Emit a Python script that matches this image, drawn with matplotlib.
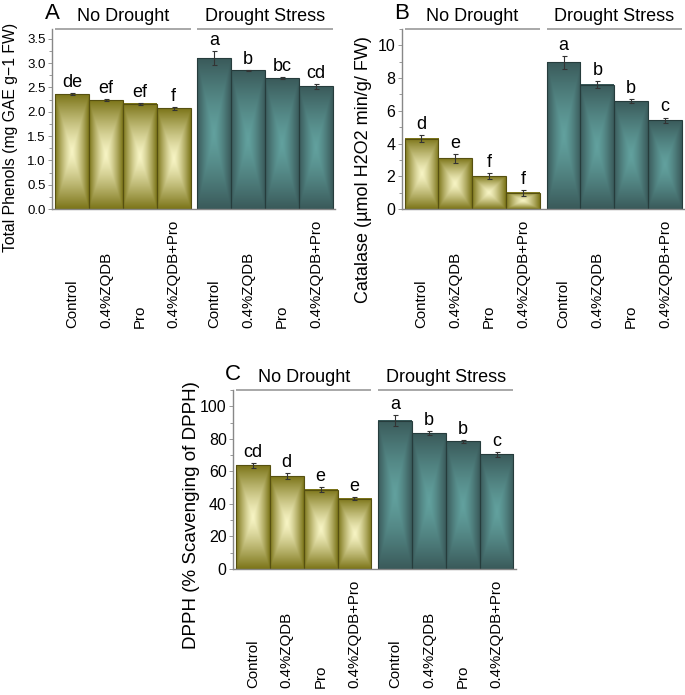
import numpy as np
import matplotlib
matplotlib.use('Agg')
import matplotlib.pyplot as plt
from matplotlib.ticker import MultipleLocator, AutoMinorLocator

plt.rcParams['font.family'] = ['Liberation Sans', 'DejaVu Sans']

treatments = ['Control', '0.4%ZQDB', 'Pro', '0.4%ZQDB+Pro']
groups = ['No Drought', 'Drought Stress']

# Total phenols
phenol_nd = [2.36, 2.24, 2.16, 2.07]
phenol_nd_err = [0.02, 0.02, 0.02, 0.03]
phenol_ds = [3.10, 2.85, 2.69, 2.52]
phenol_ds_err = [0.14, 0.01, 0.02, 0.05]
phenol_letters = ['de', 'ef', 'ef', 'f', 'a', 'b', 'bc', 'cd']

# Catalase
cat_nd = [4.30, 3.10, 2.00, 0.98]
cat_nd_err = [0.23, 0.27, 0.17, 0.17]
cat_ds = [8.96, 7.60, 6.58, 5.42]
cat_ds_err = [0.40, 0.20, 0.12, 0.17]
cat_letters = ['d', 'e', 'f', 'f', 'a', 'b', 'b', 'c']

# DPPH
dpph_nd = [63.7, 57.1, 48.8, 43.1]
dpph_nd_err = [1.5, 1.8, 1.5, 1.0]
dpph_ds = [91.2, 83.5, 78.4, 70.4]
dpph_ds_err = [3.5, 1.0, 1.0, 1.5]
dpph_letters = ['cd', 'd', 'e', 'e', 'a', 'b', 'b', 'c']

OLIVE = {'light': '#f7f4c4', 'dark': '#7c7519', 'edge': '#565010'}
TEAL = {'light': '#62a19e', 'dark': '#3a5a5a', 'edge': '#263c3c'}


def gradient(style, n=120):
    # rectangular gradient: light centre, dark edges
    u = np.linspace(-1, 1, n)
    U, V = np.meshgrid(u, u)
    f = np.maximum(np.abs(U), np.abs(V)) ** 1.3
    lo = np.array(matplotlib.colors.to_rgb(style['light']))
    hi = np.array(matplotlib.colors.to_rgb(style['dark']))
    return lo[None, None, :] * (1 - f[..., None]) + hi[None, None, :] * f[..., None]


def panel(rect, letter, nd, nd_err, ds, ds_err, letters, ylabel, ymax, major,
          tick_fs, lab_fs, lab_pos):
    ax = fig.add_axes(rect)
    gap = 0.2
    x_nd = np.arange(4)
    x_ds = np.arange(4) + 4 + gap
    for xs, vals, errs, st in [(x_nd, nd, nd_err, OLIVE), (x_ds, ds, ds_err, TEAL)]:
        img = gradient(st)
        for x, v in zip(xs, vals):
            ax.imshow(img, extent=(x - 0.5, x + 0.5, 0, v), aspect='auto',
                      interpolation='bilinear', zorder=1)
        ax.bar(xs, vals, width=1.0, facecolor='none', edgecolor=st['edge'],
               linewidth=0.8, zorder=2)
        ax.errorbar(xs, vals, yerr=errs, fmt='none', ecolor='#333333',
                    elinewidth=0.8, capsize=1.8, capthick=0.8, zorder=3)
    xs_all = np.concatenate([x_nd, x_ds])
    tops = np.concatenate([np.array(nd) + nd_err, np.array(ds) + ds_err])
    for x, t, l in zip(xs_all, tops, letters):
        ax.annotate(l, (x, t), xytext=(0, 1.5), textcoords='offset points',
                    ha='center', va='bottom', fontsize=13)
    ax.set_xlim(-0.59, 7.76)
    ax.set_ylim(0, ymax)
    ax.yaxis.set_major_locator(MultipleLocator(major))
    ax.yaxis.set_minor_locator(AutoMinorLocator(2))
    if major < 1:
        ax.yaxis.set_major_formatter(matplotlib.ticker.FormatStrFormatter('%.1f'))
    ax.tick_params(axis='y', labelsize=tick_fs, length=3, width=0.6,
                   color='#888888', pad=1.5)
    ax.tick_params(axis='y', which='minor', length=2, width=0.6, color='#888888')
    ax.set_xticks([])
    for s in ['top', 'right']:
        ax.spines[s].set_visible(False)
    for s in ['left', 'bottom']:
        ax.spines[s].set_color('#888888')
        ax.spines[s].set_linewidth(1.0)
    # rotated treatment labels, bottom aligned
    for x, t in zip(xs_all, treatments * 2):
        ax.annotate(t, (x, 0), xycoords=('data', 'axes fraction'),
                    xytext=(0, -86), textcoords='offset points',
                    rotation=90, ha='center', va='bottom', fontsize=10.8)
    # group headers
    for xs, g in [(x_nd, groups[0]), (x_ds, groups[1])]:
        ax.hlines(ymax, xs[0] - 0.5, xs[-1] + 0.5, color='#999999',
                  linewidth=1.2, clip_on=False)
        ax.annotate(g, ((xs[0] + xs[-1]) / 2, ymax), xytext=(0, 6),
                    textcoords='offset points', ha='center', va='baseline',
                    fontsize=13)
    ax.annotate(letter, (0, 1), xycoords='axes fraction', xytext=(0, 7.5),
                textcoords='offset points', ha='center', va='baseline',
                fontsize=16)
    fig.text(lab_pos[0], lab_pos[1], ylabel, rotation=90, ha='center',
             va='center', fontsize=lab_fs)
    return ax


fig = plt.figure(figsize=(6.85, 6.95), dpi=100)

W, H = 685, 695


def rect(l, t, r, b):
    return [l / W, 1 - b / H, (r - l) / W, (b - t) / H]


panel(rect(52, 29, 335, 209), 'A', phenol_nd, phenol_nd_err, phenol_ds, phenol_ds_err,
      phenol_letters, 'Total Phenols (mg GAE g\u22121 FW)', 3.7, 0.5, 9.5, 11.3,
      (11 / W, 1 - 137 / H))
panel(rect(401.5, 29, 684, 209), 'B', cat_nd, cat_nd_err, cat_ds, cat_ds_err,
      cat_letters, 'Catalase (\u00b5mol H2O2 min/g/ FW)', 11, 2, 11.5, 13,
      (364 / W, 1 - 170 / H))
panel(rect(233, 390, 515.5, 569), 'C', dpph_nd, dpph_nd_err, dpph_ds, dpph_ds_err,
      dpph_letters, 'DPPH (% Scavenging of DPPH)', 110, 20, 11.5, 13.5,
      (191 / W, 1 - 515 / H))

fig.savefig('out.png', dpi=100)
